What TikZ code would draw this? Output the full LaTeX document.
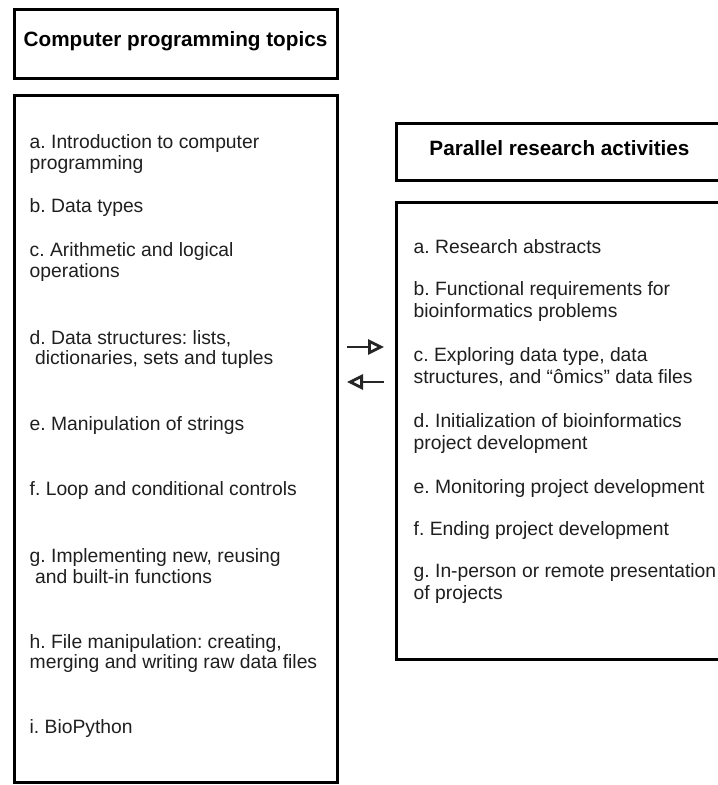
\documentclass[tikz,border=0pt]{standalone}
\usepackage{fontspec}
\setmainfont{Liberation Sans}
\usetikzlibrary{arrows.meta}
\frenchspacing
\newcommand\itemlines[3][21]{\vtop{\baselineskip=#1pt\hbox{#2}\hbox{#3}}}
\tikzset{
  box/.style={draw=black, line width=3pt, rectangle, inner sep=0pt, fill=none},
  titletext/.style={inner sep=0pt, anchor=base, font=\fontsize{20.7}{24}\selectfont\bfseries, text=black},
  itemtext/.style={inner sep=0pt, anchor=base west, font=\fontsize{19.3}{21}\selectfont\frenchspacing, text=black!88},
  arr/.style={line width=2.8pt, black!85, -{Triangle[open, length=16pt, width=15pt, line width=2.8pt]}}
}
\begin{document}
\begin{tikzpicture}[x=1pt, y=-1pt]
\clip (0,0) rectangle (718,785);
\fill[white] (0,0) rectangle (718,785);

% boxes
\node[box, minimum width=323pt, minimum height=69pt] (ltb) at (175.5,43.5) {};
\node[box, minimum width=323pt, minimum height=687pt] (lbb) at (175.5,438.5) {};
\node[box, minimum width=326.5pt, minimum height=57pt] (rtb) at (559.75,151.5) {};
\node[box, minimum width=326.5pt, minimum height=456.5pt] (rbb) at (559.75,430.75) {};

% titles
\node[titletext] (lt) at (175.5,46) {Computer programming topics};
\node[titletext] (rt) at (559.5,155) {Parallel research activities};

% left items
\node[itemtext] (la) at (29.5,148) {\itemlines{a. Introduction to computer}{programming}};
\node[itemtext] (lb) at (29.5,212) {b. Data types};
\node[itemtext] (lc) at (29.5,256) {\itemlines{c. Arithmetic and logical}{operations}};
\node[itemtext] (ld) at (29.5,344) {\itemlines[20.5]{d. Data structures: lists,}{\ dictionaries, sets and tuples}};
\node[itemtext] (le) at (29.5,430) {e. Manipulation of strings};
\node[itemtext] (lf) at (29.5,495) {f. Loop and conditional controls};
\node[itemtext] (lg) at (29.5,562) {\itemlines{g. Implementing new, reusing}{\ and built-in functions}};
\node[itemtext] (lh) at (29.5,648) {\itemlines[20.5]{h. File manipulation: creating,}{merging and writing raw data files}};
\node[itemtext] (li) at (29.5,733) {i. BioPython};

% right items
\node[itemtext] (ra) at (413.5,253) {a. Research abstracts};
\node[itemtext] (rb) at (413.5,295) {\itemlines[22]{b. Functional requirements for}{bioinformatics problems}};
\node[itemtext] (rc) at (413.5,361) {\itemlines[22]{c. Exploring data type, data}{structures, and “ômics” data files}};
\node[itemtext] (rd) at (413.5,427) {\itemlines[22]{d. Initialization of bioinformatics}{project development}};
\node[itemtext] (re) at (413.5,493) {e. Monitoring project development};
\node[itemtext] (rf) at (413.5,535) {f. Ending project development};
\node[itemtext] (rg) at (413.5,577) {\itemlines[22]{g. In-person or remote presentation}{of projects}};

% arrows between the columns
\coordinate (u1) at (347,347);
\coordinate (u2) at (384,347);
\coordinate (d1) at (384,382);
\coordinate (d2) at (347,382);
\draw[arr] (u1) -- (u2);
\draw[arr] (d1) -- (d2);
\end{tikzpicture}
\end{document}
